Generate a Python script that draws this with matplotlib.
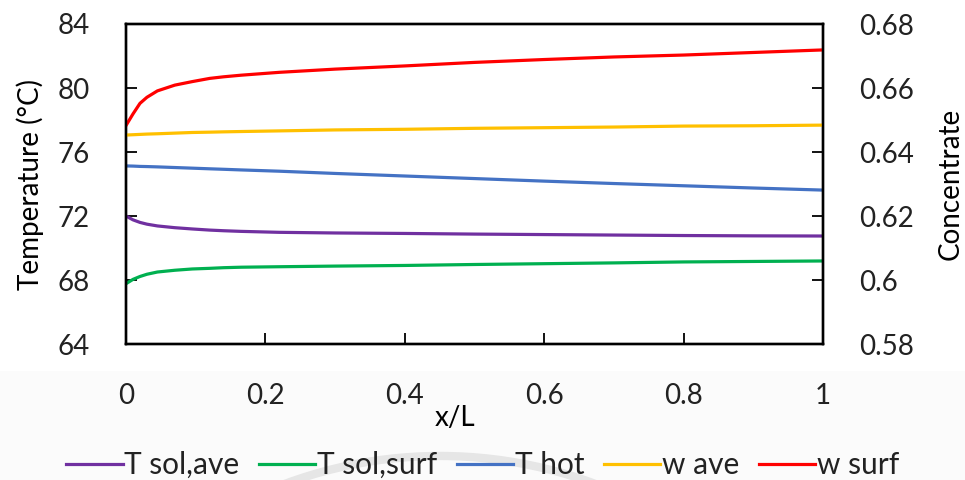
import matplotlib
matplotlib.use("Agg")
import matplotlib.pyplot as plt
from matplotlib.patches import Arc, Rectangle

plt.rcParams["font.family"] = ["Lato", "DejaVu Sans"]
plt.rcParams["text.color"] = "#222222"

# position along the channel
x_l = [0, 0.01, 0.02, 0.03, 0.045, 0.07, 0.095, 0.12, 0.14, 0.165,
       0.22, 0.3, 0.4, 0.5, 0.6, 0.7, 0.8, 0.9, 1.0]

# temperatures (°C)
t_sol_ave = [72.00, 71.76, 71.60, 71.49, 71.38, 71.27, 71.19, 71.12, 71.08, 71.04,
             70.98, 70.94, 70.91, 70.87, 70.84, 70.81, 70.78, 70.76, 70.75]
t_sol_surf = [67.77, 68.04, 68.22, 68.36, 68.50, 68.61, 68.69, 68.73, 68.77, 68.80,
              68.83, 68.87, 68.91, 68.97, 69.02, 69.07, 69.13, 69.16, 69.19]
t_hot = [75.13, 75.12, 75.10, 75.09, 75.07, 75.03, 74.99, 74.95, 74.92, 74.88,
         74.80, 74.66, 74.50, 74.34, 74.18, 74.03, 73.89, 73.75, 73.62]

# concentrations
w_ave = [0.6453, 0.6454, 0.6455, 0.6456, 0.6457, 0.6459, 0.6461, 0.6462, 0.6463, 0.6464,
         0.6466, 0.6469, 0.6471, 0.6474, 0.6476, 0.6478, 0.6481, 0.6482, 0.6484]
w_surf = [0.6483, 0.6519, 0.6552, 0.6571, 0.6591, 0.6609, 0.6620, 0.6630, 0.6635, 0.6640,
          0.6649, 0.6659, 0.6669, 0.6680, 0.6689, 0.6697, 0.6703, 0.6711, 0.6719]

x_ticks = [0, 0.2, 0.4, 0.6, 0.8, 1]
x_tick_labels = ["0", "0.2", "0.4", "0.6", "0.8", "1"]
t_ticks = [64, 68, 72, 76, 80, 84]
w_ticks = [0.58, 0.60, 0.62, 0.64, 0.66, 0.68]
w_tick_labels = ["0.58", "0.6", "0.62", "0.64", "0.66", "0.68"]

fig = plt.figure(figsize=(9.65, 4.8), dpi=100)

# faint grey band and arc behind the legend
fig.patches.append(Rectangle((0, 0), 1, 0.228, transform=fig.transFigure,
                             facecolor="#fbfbfb", edgecolor="none", zorder=-10))
fig.patches.append(Arc((0.456, -0.877), 2 * 445 / 965, 2 * 445 / 480, theta1=55, theta2=125,
                       transform=fig.transFigure, color="#e6e6e6", linewidth=6, zorder=-9))

ax1 = fig.add_axes([0.1306, 0.2833, 0.7223, 0.6667])
ax2 = ax1.twinx()

lw = 2.3
l1, = ax1.plot(x_l, t_sol_ave, color="#7030A0", linewidth=lw, label="T sol,ave")
l2, = ax1.plot(x_l, t_sol_surf, color="#00B050", linewidth=lw, label="T sol,surf")
l3, = ax1.plot(x_l, t_hot, color="#4472C4", linewidth=lw, label="T hot")
l4, = ax2.plot(x_l, w_ave, color="#FFC000", linewidth=lw, label="w ave")
l5, = ax2.plot(x_l, w_surf, color="#FF0000", linewidth=lw, label="w surf")

ax1.set_xlim(0, 1)
ax1.set_ylim(64, 84)
ax2.set_ylim(0.58, 0.68)

ax1.set_xticks(x_ticks)
ax1.set_xticklabels(x_tick_labels)
ax1.set_yticks(t_ticks)
ax2.set_yticks(w_ticks)
ax2.set_yticklabels(w_tick_labels)

for ax in (ax1, ax2):
    ax.tick_params(direction="in", length=8, width=1.3, labelsize=20, pad=26,
                   color="black", labelcolor="#222222")
    for s in ax.spines.values():
        s.set_linewidth(1.7)
        s.set_color("black")
ax1.tick_params(axis="x", pad=28)

ax1.set_xlabel("x/L", fontsize=20)
ax1.xaxis.set_label_coords(0.472, -0.19)
ax1.set_ylabel("Temperature (°C)", fontsize=20)
ax1.yaxis.set_label_coords(-0.118, 0.5)
ax2.set_ylabel("Concentrate", fontsize=20)
ax2.yaxis.set_label_coords(1.164, 0.5)

fig.legend([l1, l2, l3, l4, l5], [l.get_label() for l in (l1, l2, l3, l4, l5)],
           loc="center", bbox_to_anchor=(0.5, 0.031), ncol=5, frameon=False,
           fontsize=21.5, handlelength=1.9, handletextpad=0.05, columnspacing=0.65,
           borderaxespad=0)

fig.savefig("out.png", dpi=100)
